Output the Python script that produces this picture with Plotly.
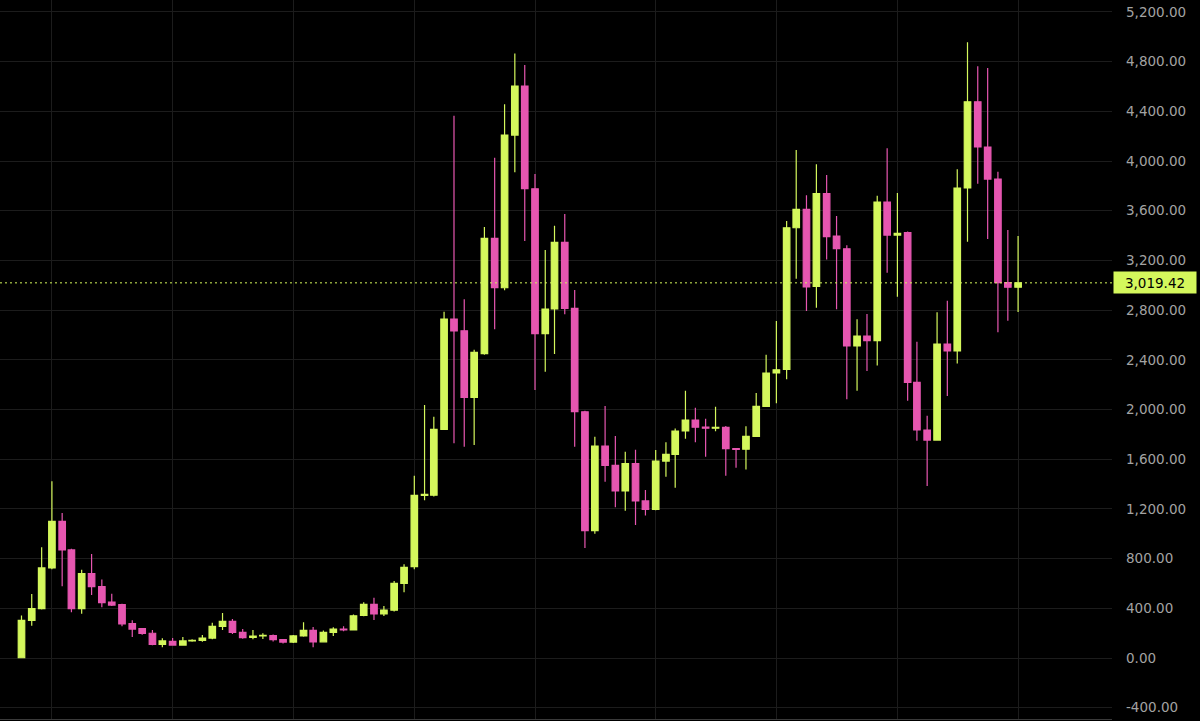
import pandas as pd
import plotly.graph_objects as go

months = pd.date_range("2017-10-01", periods=100, freq="MS")

opens = [2, 303, 397, 725, 1100, 870, 397, 679, 574, 450,
         429, 276, 236, 199, 110, 134, 104, 137, 142, 160,
         255, 295, 207, 165, 177, 180, 148, 128, 178, 222,
         130, 207, 232, 226, 343, 432, 355, 385, 600, 735,
         1309, 1310, 1840, 2728, 2634, 2098, 2450, 3377, 2980, 4209,
         4603, 3777, 2610, 2809, 3345, 2814, 1982, 1025, 1706, 1551,
         1344, 1564, 1264, 1196, 1585, 1639, 1827, 1915, 1858, 1850,
         1856, 1685, 1680, 1784, 2025, 2294, 2323, 3463, 3611, 2990,
         3737, 3396, 3294, 2511, 2591, 2555, 3670, 3404, 3423, 2219,
         1835, 1754, 2527, 2471, 3783, 4477, 4113, 3855, 3021, 2985]
highs = [343, 515, 891, 1422, 1167, 880, 711, 837, 631, 518,
         437, 303, 242, 225, 158, 160, 168, 150, 185, 283,
         362, 314, 233, 225, 200, 190, 153, 185, 287, 250,
         222, 248, 255, 350, 448, 485, 418, 620, 755, 1467,
         2036, 1942, 2787, 4365, 2887, 2480, 3469, 4027, 4456, 4866,
         4772, 3895, 3284, 3479, 3573, 2962, 1990, 1781, 2028, 1787,
         1661, 1677, 1352, 1674, 1736, 1848, 2151, 2015, 1926, 2023,
         1867, 1690, 1865, 2133, 2441, 2712, 3517, 4088, 3724, 3973,
         3887, 3557, 3322, 2726, 2769, 3721, 4102, 3742, 3432, 2546,
         1950, 2782, 2876, 3933, 4955, 4762, 4748, 3914, 3445, 3396]
lows = [0, 260, 390, 715, 577, 368, 357, 507, 408, 418,
        255, 169, 188, 102, 86, 100, 100, 130, 130, 150,
        225, 193, 155, 150, 152, 132, 116, 120, 172, 86,
        125, 178, 215, 222, 335, 306, 338, 375, 530, 715,
        1270, 1300, 1835, 1728, 1700, 1714, 2440, 2645, 2960, 3909,
        3356, 2157, 2304, 2447, 2766, 1701, 885, 1000, 1419, 1213,
        1186, 1070, 1146, 1190, 1459, 1371, 1765, 1736, 1620, 1825,
        1467, 1532, 1518, 1780, 2020, 2050, 2243, 3053, 2793, 2819,
        3208, 2806, 2082, 2151, 2310, 2355, 3101, 2908, 2071, 1749,
        1384, 1750, 2109, 2371, 3351, 3817, 3372, 2621, 2715, 2785]
closes = [303, 397, 725, 1100, 870, 397, 679, 574, 446, 426,
          274, 233, 198, 110, 137, 104, 137, 142, 160, 255,
          295, 207, 163, 177, 183, 148, 128, 178, 222, 130,
          207, 232, 226, 340, 432, 355, 385, 600, 730, 1309,
          1318, 1840, 2728, 2632, 2098, 2460, 3377, 2980, 4209, 4603,
          3777, 2610, 2809, 3345, 2814, 1982, 1025, 1706, 1551, 1344,
          1564, 1264, 1196, 1585, 1639, 1827, 1915, 1858, 1850, 1856,
          1685, 1678, 1784, 2025, 2294, 2320, 3463, 3611, 2986, 3737,
          3391, 3294, 2511, 2591, 2555, 3670, 3404, 3418, 2219, 1835,
          1754, 2527, 2471, 3783, 4477, 4113, 3855, 3021, 2985, 3019.42]

last_price = 3019.42
y_ticks = [-400, 0, 400, 800, 1200, 1600, 2000, 2400, 2800, 3200,
           3600, 4000, 4400, 4800, 5200]
y_tick_labels = [f"{v:,.2f}" for v in y_ticks]

UP = "#d4f75c"
DOWN = "#e656b0"
GRID = "#1c1c1c"

fig = go.Figure(go.Candlestick(
    x=months, open=opens, high=highs, low=lows, close=closes,
    increasing=dict(line=dict(color=UP, width=1.2), fillcolor=UP),
    decreasing=dict(line=dict(color=DOWN, width=1.2), fillcolor=DOWN),
    whiskerwidth=0,
    showlegend=False,
))

fig.add_shape(type="line", xref="paper", x0=0, x1=1, yref="y",
              y0=last_price, y1=last_price,
              line=dict(color=UP, width=1, dash="2px,3px"))
fig.add_annotation(xref="paper", x=1, yref="y", y=last_price,
                   text=f"{last_price:,.2f}", showarrow=False,
                   xanchor="left", yanchor="middle", xshift=1,
                   width=78, height=17, align="center",
                   bgcolor=UP, borderpad=2,
                   font=dict(color="#000000", size=13.5, family="DejaVu Sans"))

fig.update_layout(
    width=1200, height=721,
    paper_bgcolor="#000000", plot_bgcolor="#000000",
    margin=dict(l=0, r=88, t=0, b=2),
    boxgap=0.26, boxgroupgap=0.05,
    hovermode=False,
    xaxis=dict(
        type="date", range=["2017-07-28", "2026-10-12"],
        rangeslider=dict(visible=False),
        tick0="2018-01-01", dtick="M12",
        showticklabels=False, showgrid=True, gridcolor=GRID, gridwidth=1,
        zeroline=False, showline=True, linecolor="#3a3a3a", linewidth=1,
        ticks="",
    ),
    yaxis=dict(
        side="right", range=[-491, 5296],
        tickvals=y_ticks, ticktext=y_tick_labels,
        showgrid=True, gridcolor=GRID, gridwidth=1, zeroline=False,
        ticks="", ticklabelstandoff=13,
        tickfont=dict(color="#a3a3a3", size=13.5, family="DejaVu Sans"),
    ),
)

fig.write_html(
    "out.html",
    config={"displayModeBar": False},
    post_script="document.body.style.margin='0';document.body.style.overflow='hidden';",
)
